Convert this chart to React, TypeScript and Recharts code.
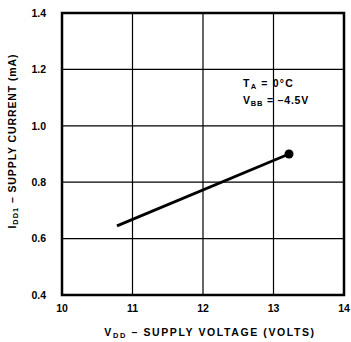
import React from "react";
import {
  LineChart,
  Line,
  XAxis,
  YAxis,
  CartesianGrid,
  ReferenceArea,
  Customized,
} from "recharts";

const supplyVoltage = [10.78, 13.22];
const supplyCurrent = [0.645, 0.9];
const xTicks = [10, 11, 12, 13, 14];
const yTicks = [0.4, 0.6, 0.8, 1.0, 1.2, 1.4];

const data = supplyVoltage.map((v, i) => ({ v, i: supplyCurrent[i] }));

const FONT = "'Liberation Sans', Arial, sans-serif";

const EndDot = (props: any) => {
  const { cx, cy, index } = props;
  if (index !== data.length - 1) return <g key={index} />;
  return <circle key={index} cx={cx} cy={cy} r={4.5} fill="#000" />;
};

const Titles = () => (
  <g fontFamily={FONT} fontWeight="bold" fill="#000">
    <text
      transform="translate(16,141) rotate(-90)"
      textAnchor="middle"
      fontSize={10.5}
      letterSpacing={0.9}
      fill="#000"
    >
      I<tspan fontSize={7.5} dy={2}>DD1</tspan>
      <tspan dy={-2}> – SUPPLY CURRENT (mA)</tspan>
    </text>
    <text x={210} y={336} textAnchor="middle" fontSize={10.5} letterSpacing={1.6} fill="#000">
      V<tspan fontSize={7.5} dy={2}>DD</tspan>
      <tspan dy={-2}> – SUPPLY VOLTAGE (VOLTS)</tspan>
    </text>
    <text x={243} y={87} fontSize={10.5} letterSpacing={1.2} fill="#000">
      T<tspan fontSize={7.5} dy={2}>A</tspan>
      <tspan dy={-2}> = 0°C</tspan>
    </text>
    <text x={243} y={104} fontSize={10.5} letterSpacing={0.8} fill="#000">
      V<tspan fontSize={7.5} dy={2}>BB</tspan>
      <tspan dy={-2}> = –4.5V</tspan>
    </text>
  </g>
);

export default function App() {
  return (
    <div style={{ position: "absolute", left: 0, top: 0, background: "#fff" }}>
      <LineChart
        width={351}
        height={342}
        data={data}
        margin={{ top: 13, right: 7, bottom: 17, left: 22 }}
      >
        <CartesianGrid stroke="#000" strokeWidth={1.2} />
        <XAxis
          dataKey="v"
          type="number"
          domain={[10, 14]}
          ticks={xTicks}
          axisLine={false}
          tickLine={false}
          height={30}
          tickMargin={4}
          tick={{ fill: "#000", fontSize: 10.5, fontWeight: "bold", fontFamily: FONT }}
        />
        <YAxis
          dataKey="i"
          type="number"
          domain={[0.4, 1.4]}
          ticks={yTicks}
          width={40}
          axisLine={false}
          tickLine={false}
          tickMargin={10}
          tickFormatter={(t: number) => t.toFixed(1)}
          tick={{ fill: "#000", fontSize: 10.5, fontWeight: "bold", fontFamily: FONT }}
        />
        <ReferenceArea
          x1={10}
          x2={14}
          y1={0.4}
          y2={1.4}
          fill="none"
          stroke="#000"
          strokeWidth={2.5}
          ifOverflow="visible"
        />
        <Line
          dataKey="i"
          stroke="#000"
          strokeWidth={2.8}
          dot={<EndDot />}
          activeDot={false}
          isAnimationActive={false}
        />
        <Customized component={Titles} />
      </LineChart>
    </div>
  );
}
